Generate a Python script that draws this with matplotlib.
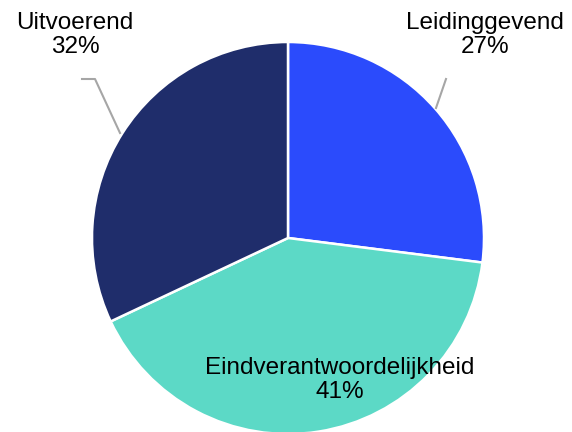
import matplotlib
matplotlib.use("Agg")
import matplotlib.pyplot as plt

categories = ["Leidinggevend", "Eindverantwoordelijkheid", "Uitvoerend"]
values = [27, 41, 32]
colors = ["#2B4BFC", "#5CD9C6", "#1F2D6B"]

plt.rcParams['font.family'] = ['Liberation Sans', 'DejaVu Sans']

W, H = 572, 432
fig = plt.figure(figsize=(W / 100, H / 100), dpi=100)
ax = fig.add_axes([0, 0, 1, 1])
ax.set_xlim(0, W)
ax.set_ylim(0, H)
ax.set_aspect('equal')
ax.axis('off')

cx, cy, r = 288, H - 238, 196
ax.pie(values, colors=colors, startangle=90, counterclock=False,
       center=(cx, cy), radius=r, frame=True,
       wedgeprops=dict(edgecolor='white', linewidth=1.8))
ax.set_xlim(0, W)
ax.set_ylim(0, H)
ax.axis('off')

fs = 17.5
labels_pos = [(485, H - 35), (340, H - 380), (75, H - 35)]
for cat, v, (x, y) in zip(categories, values, labels_pos):
    ax.text(x, y, f"{cat}\n{v}%", ha='center', va='center', fontsize=fs,
            color='black', linespacing=1.1)

lc = '#A6A6A6'
ax.plot([446, 436], [H - 79, H - 108], color=lc, lw=1.5)
ax.plot([82, 95, 120], [H - 79, H - 79, H - 133], color=lc, lw=1.5)

fig.savefig("out.png", dpi=100)
